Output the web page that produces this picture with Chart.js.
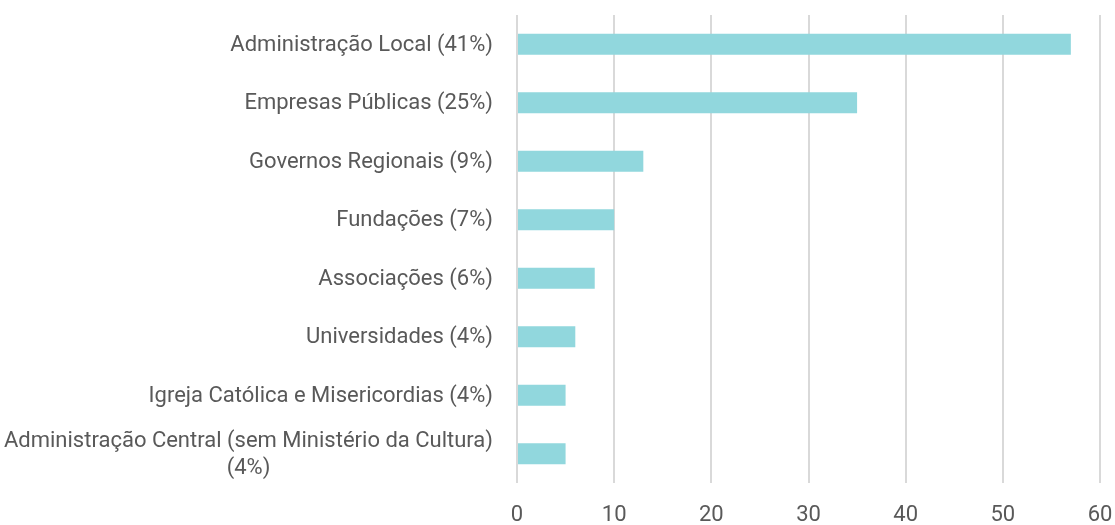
<!DOCTYPE html>
<html>
<head>
<meta charset="utf-8">
<script src="https://cdn.jsdelivr.net/npm/chart.js@4/dist/chart.umd.min.js"></script>
<style>
  html, body { margin: 0; padding: 0; background: #ffffff; }
  canvas { display: block; }
</style>
</head>
<body>
<canvas id="chart" width="1115" height="525"></canvas>
<script>
// Entidades promotoras: número de projetos e peso relativo
const categories = [
  ["Administração Local (41%)"],
  ["Empresas Públicas (25%)"],
  ["Governos Regionais (9%)"],
  ["Fundações (7%)"],
  ["Associações (6%)"],
  ["Universidades (4%)"],
  ["Igreja Católica e Misericordias (4%)"],
  ["Administração Central (sem Ministério da Cultura)", "(4%)"]
];
const projetos = [57, 35, 13, 10, 8, 6, 5, 5];
const xTicks = [0, 10, 20, 30, 40, 50, 60];

const FONT = "Roboto, 'Liberation Sans', sans-serif";
const FONT_SIZE = 22;
const TEXT = "#595959";

// Category labels: block right-aligned against the axis, lines centred within the block
const categoryLabels = {
  id: "categoryLabels",
  afterDraw(chart) {
    const { ctx, scales } = chart;
    const y = scales.y;
    const right = chart.chartArea.left - 24;
    const lineH = 27;
    ctx.save();
    ctx.font = FONT_SIZE + "px " + FONT;
    ctx.fillStyle = TEXT;
    ctx.textBaseline = "middle";
    ctx.textAlign = "center";
    categories.forEach((lines, i) => {
      const cy = y.getPixelForTick(i) + 1;
      const w = Math.max(...lines.map(l => ctx.measureText(l).width));
      const cx = right - w / 2;
      const y0 = cy - (lines.length - 1) * lineH / 2;
      lines.forEach((l, k) => ctx.fillText(l, cx, y0 + k * lineH));
    });
    ctx.restore();
  }
};

new Chart(document.getElementById("chart"), {
  type: "bar",
  data: {
    labels: categories.map(c => c.join(" ")),
    datasets: [{
      data: projetos,
      backgroundColor: "#91d7dd",
      borderWidth: 0,
      categoryPercentage: 1,
      barPercentage: 0.36
    }]
  },
  options: {
    indexAxis: "y",
    responsive: false,
    animation: false,
    devicePixelRatio: 1,
    layout: { padding: { top: 15, right: 15, bottom: 0, left: 0 } },
    plugins: { legend: { display: false }, tooltip: { enabled: false } },
    scales: {
      x: {
        min: 0,
        max: 60,
        afterBuildTicks(scale) { scale.ticks = xTicks.map(v => ({ value: v })); },
        afterFit(scale) {
          scale.height = 42;
          scale.paddingLeft = 0;
          scale.paddingRight = 0;
        },
        grid: { color: "#d9d9d9", lineWidth: 2, drawTicks: false },
        border: { display: false },
        ticks: { padding: 19, color: TEXT, font: { family: FONT, size: FONT_SIZE } }
      },
      y: {
        afterFit(scale) { scale.width = 517; },
        grid: { display: false },
        border: { display: false },
        ticks: { display: false }
      }
    }
  },
  plugins: [categoryLabels]
});
</script>
</body>
</html>
